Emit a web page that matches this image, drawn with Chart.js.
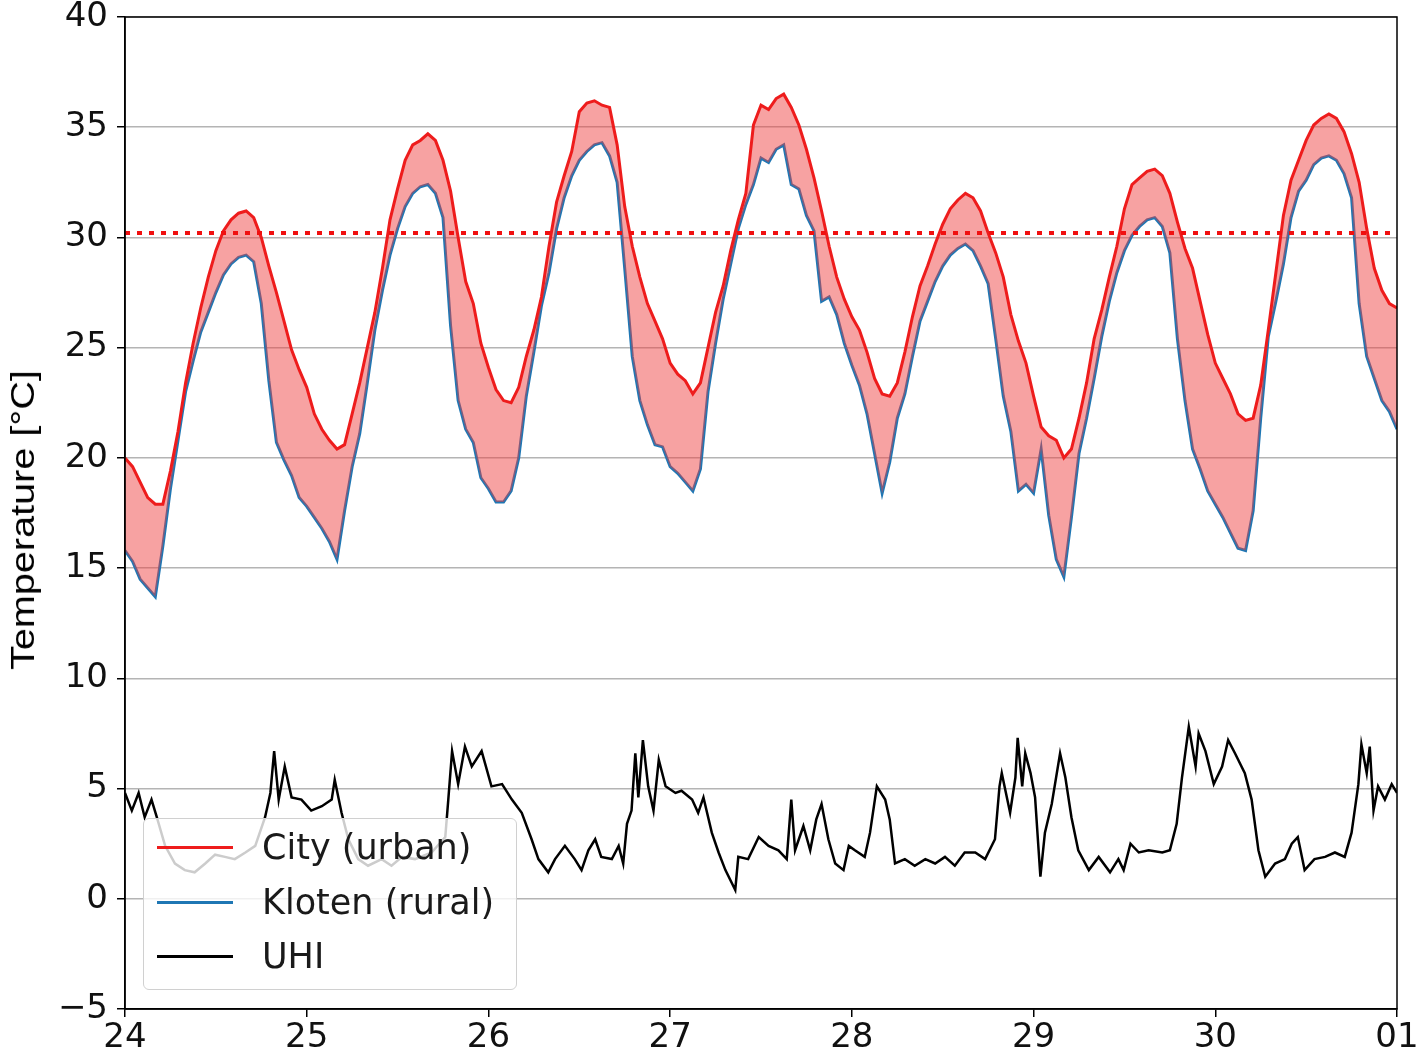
<!DOCTYPE html>
<html>
<head>
<meta charset="utf-8">
<script src="https://cdn.jsdelivr.net/npm/chart.js@4"></script>
<style>
  html, body { margin: 0; padding: 0; background: #fff; overflow: hidden; }
  #wrap { position: relative; width: 1418px; height: 1059px; }
  #legend {
    position: absolute; left: 143px; top: 818px; width: 372px; height: 170px;
    background: rgba(255, 255, 255, 0.8); border: 1.5px solid #d0d0d0; border-radius: 6px;
    font-family: "DejaVu Sans", sans-serif; font-size: 35px; color: #1a1a1a;
  }
  .row { position: absolute; left: 0; height: 40px; display: flex; align-items: center; }
  .row span.line { display: inline-block; width: 76px; height: 3px; margin-left: 13px; margin-right: 29px; }
  #ytitle {
    position: absolute; left: 23px; top: 520px; white-space: nowrap;
    font-family: "Liberation Sans", Arial, sans-serif; font-size: 33px; color: #000;
    transform: translate(-50%, -50%) rotate(-90deg) scaleX(1.2);
  }
</style>
</head>
<body>
<div id="wrap">
  <canvas id="chart" width="1418" height="1059"></canvas>
  <div id="ytitle">Temperature [°C]</div>
  <div id="legend">
    <div class="row" style="top: 8px"><span class="line" style="background:#ee1c1c"></span>City (urban)</div>
    <div class="row" style="top: 63px"><span class="line" style="background:#1f77b4"></span>Kloten (rural)</div>
    <div class="row" style="top: 117px"><span class="line" style="background:#000"></span>UHI</div>
  </div>
</div>
<script>
// hours from 24th 00:00, one value per hour (0..168)
const xTickLabels = [`24`, `25`, `26`, `27`, `28`, `29`, `30`, `01`];

const cityTemps = [
  20.0, 19.6, 18.9, 18.2, 17.9, 17.9, 19.4, 21.2, 23.4, 25.2, 26.8, 28.2,
  29.4, 30.3, 30.8, 31.1, 31.2, 30.9, 30.0, 28.7, 27.5, 26.2, 24.9, 24.0,
  23.2, 22.0, 21.3, 20.8, 20.4, 20.6, 22.0, 23.4, 25.0, 26.6, 28.6, 30.8,
  32.2, 33.5, 34.2, 34.4, 34.7, 34.4, 33.5, 32.1, 30.0, 28.0, 27.0, 25.2,
  24.1, 23.1, 22.6, 22.5, 23.2, 24.6, 25.8, 27.3, 29.6, 31.6, 32.8, 33.9,
  35.7, 36.1, 36.2, 36.0, 35.9, 34.2, 31.4, 29.6, 28.2, 27.0, 26.2, 25.4,
  24.3, 23.8, 23.5, 22.9, 23.4, 25.0, 26.6, 27.8, 29.4, 30.8, 32.0, 35.1,
  36.0, 35.8, 36.3, 36.5, 35.9, 35.1, 34.0, 32.7, 31.2, 29.6, 28.2, 27.2,
  26.4, 25.8, 24.8, 23.6, 22.9, 22.8, 23.4, 24.8, 26.4, 27.8, 28.7, 29.7,
  30.6, 31.3, 31.7, 32.0, 31.8, 31.2, 30.2, 29.3, 28.2, 26.5, 25.3, 24.3,
  22.8, 21.4, 21.0, 20.8, 20.0, 20.4, 21.8, 23.4, 25.4, 26.7, 28.2, 29.6,
  31.3, 32.4, 32.7, 33.0, 33.1, 32.8, 32.0, 30.7, 29.5, 28.6, 27.1, 25.6,
  24.3, 23.6, 22.9, 22.0, 21.7, 21.8, 23.3, 25.8, 28.4, 31.0, 32.6, 33.5,
  34.4, 35.1, 35.4, 35.6, 35.4, 34.8, 33.8, 32.5, 30.4, 28.6, 27.6, 27.0,
  26.8
];

const klotenTemps = [
  15.8, 15.3, 14.5, 14.1, 13.7, 16.0, 18.6, 20.8, 23.0, 24.4, 25.7, 26.6,
  27.5, 28.3, 28.8, 29.1, 29.2, 28.9, 27.0, 23.5, 20.7, 19.9, 19.2, 18.2,
  17.8, 17.3, 16.8, 16.2, 15.4, 17.6, 19.6, 21.1, 23.4, 25.8, 27.6, 29.2,
  30.4, 31.4, 32.0, 32.3, 32.4, 32.0, 30.9, 26.0, 22.6, 21.3, 20.7, 19.1,
  18.6, 18.0, 18.0, 18.5, 20.0, 22.8, 24.8, 26.9, 28.4, 30.4, 31.8, 32.8,
  33.5, 33.9, 34.2, 34.3, 33.7, 32.5, 28.6, 24.6, 22.6, 21.5, 20.6, 20.5,
  19.6, 19.3, 18.9, 18.5, 19.5, 23.0, 25.2, 27.2, 28.8, 30.4, 31.5, 32.4,
  33.6, 33.4, 34.0, 34.2, 32.4, 32.2, 31.0, 30.3, 27.1, 27.3, 26.5, 25.2,
  24.2, 23.3, 22.0, 20.2, 18.4, 19.8, 21.8, 22.9, 24.6, 26.2, 27.1, 28.0,
  28.7, 29.2, 29.5, 29.7, 29.4, 28.7, 27.9, 25.4, 22.8, 21.2, 18.5, 18.8,
  18.4, 20.4, 17.4, 15.4, 14.6, 17.3, 20.2, 21.8, 23.6, 25.5, 27.1, 28.4,
  29.4, 30.1, 30.5, 30.8, 30.9, 30.5, 29.3, 25.4, 22.6, 20.4, 19.5, 18.5,
  17.9, 17.3, 16.6, 15.9, 15.8, 17.6, 21.8, 25.5, 27.1, 28.8, 30.9, 32.1,
  32.6, 33.3, 33.6, 33.7, 33.5, 32.9, 31.8, 27.0, 24.6, 23.6, 22.6, 22.1,
  21.3
];

// UHI read at irregular times (hours from 24th 00:00)
const uhiHours = [
  0, 0.9, 1.8, 2.6, 3.5, 4.2, 5.3, 6.6, 7.9, 9.2, 10.6, 11.9, 13.2, 14.5, 15.9, 17.2,
  18.5, 19.2, 19.7, 20.3, 21.1, 22.0, 23.3, 24.6, 26.0, 27.3, 27.7, 28.6, 29.5, 30.8,
  32.1, 33.9, 35.2, 36.6, 38.3, 40.5, 42.3, 42.7, 43.2, 44.0, 44.9, 45.8, 47.1, 48.4,
  49.8, 51.1, 52.4, 53.7, 54.6, 55.9, 56.8, 58.1, 59.4, 60.3, 61.2, 62.1, 62.9, 64.3,
  65.2, 65.8, 66.3, 66.9, 67.4, 67.8, 68.4, 69.1, 69.8, 70.5, 71.4, 72.7, 73.5, 74.9,
  75.7, 76.4, 77.5, 78.4, 79.3, 80.6, 81.0, 82.3, 83.7, 85.0, 86.3, 87.4, 88.0, 88.5,
  89.6, 90.5, 91.3, 92.0, 92.9, 93.8, 94.9, 95.6, 96.4, 97.7, 98.4, 99.3, 100.4, 101.0,
  101.7, 103.0, 104.3, 105.7, 107.0, 108.3, 109.6, 110.9, 112.3, 113.6, 114.9, 115.5,
  115.8, 116.9, 117.6, 117.9, 118.5, 118.9, 119.6, 120.2, 120.9, 121.5, 122.4, 123.5,
  124.2, 125.0, 125.9, 127.3, 128.6, 130.1, 131.2, 131.9, 132.8, 133.9, 135.2, 137.0,
  138.0, 138.9, 139.6, 140.5, 141.4, 141.8, 142.7, 143.8, 144.9, 145.7, 146.6, 147.9,
  148.8, 149.7, 150.6, 151.9, 153.2, 154.1, 154.9, 155.8, 157.1, 158.5, 159.8, 161.1,
  162.0, 162.9, 163.3, 164.0, 164.4, 164.9, 165.5, 166.4, 167.3, 168
];
const uhiValues = [
  4.8, 4.0, 4.8, 3.7, 4.5, 3.7, 2.4, 1.6, 1.3, 1.2, 1.6, 2.0, 1.9, 1.8, 2.1, 2.4,
  3.7, 4.8, 6.7, 4.5, 6.0, 4.6, 4.5, 4.0, 4.2, 4.5, 5.4, 3.9, 2.7, 1.8,
  1.5, 1.8, 1.5, 1.9, 1.8, 2.1, 2.8, 4.5, 6.7, 5.2, 6.9, 6.0, 6.7, 5.1,
  5.2, 4.5, 3.9, 2.7, 1.8, 1.2, 1.8, 2.4, 1.8, 1.3, 2.2, 2.7, 1.9, 1.8,
  2.4, 1.6, 3.4, 4.0, 6.6, 4.6, 7.2, 5.1, 4.0, 6.3, 5.1, 4.8, 4.9, 4.5,
  3.9, 4.6, 3.0, 2.1, 1.3, 0.4, 1.9, 1.8, 2.8, 2.4, 2.2, 1.8, 4.5, 2.2,
  3.3, 2.2, 3.6, 4.3, 2.7, 1.6, 1.3, 2.4, 2.2, 1.9, 3.0, 5.1, 4.5, 3.6,
  1.6, 1.8, 1.5, 1.8, 1.6, 1.9, 1.5, 2.1, 2.1, 1.8, 2.7, 5.1,
  5.7, 3.9, 5.5, 7.3, 5.1, 6.6, 5.7, 4.6, 1.0, 3.0, 4.3, 6.6,
  5.5, 3.7, 2.2, 1.3, 1.9, 1.2, 1.8, 1.3, 2.5, 2.1, 2.2, 2.1,
  2.2, 3.4, 5.5, 7.8, 6.0, 7.5, 6.7, 5.2, 6.0, 7.2, 6.6, 5.7,
  4.5, 2.2, 1.0, 1.6, 1.8, 2.5, 2.8, 1.3, 1.8, 1.9, 2.1, 1.9,
  3.0, 5.2, 7.0, 5.7, 6.9, 4.0, 5.1, 4.5, 5.2, 4.8
];

const thresholdTemp = 30.2;

const hourly = (values) => values.map((v, i) => ({x: i, y: v}));

// matplotlib-like box round the plot area
const framePlugin = {
  id: `frame`,
  afterDatasetsDraw(chart) {
    const {ctx, chartArea} = chart;
    ctx.save();
    ctx.strokeStyle = `#000`;
    ctx.lineWidth = 1.5;
    ctx.strokeRect(chartArea.left, chartArea.top, chartArea.right - chartArea.left, chartArea.bottom - chartArea.top);
    ctx.restore();
  }
};

new Chart(document.getElementById(`chart`), {
  type: `line`,
  data: {
    datasets: [
      {
        label: `threshold`,
        data: [{x: 0, y: thresholdTemp}, {x: 168, y: thresholdTemp}],
        borderColor: `#f01010`,
        borderWidth: 4,
        borderDash: [5, 7],
        pointRadius: 0,
        fill: false
      },
      {
        label: `City (urban)`,
        data: hourly(cityTemps),
        borderColor: `#ee1c1c`,
        backgroundColor: `rgba(238, 60, 60, 0.48)`,
        borderWidth: 3,
        pointRadius: 0,
        tension: 0,
        fill: `+1`
      },
      {
        label: `Kloten (rural)`,
        data: hourly(klotenTemps),
        borderColor: `#1f77b4`,
        borderWidth: 3,
        pointRadius: 0,
        tension: 0,
        fill: false
      },
      {
        label: `UHI`,
        data: uhiHours.map((h, i) => ({x: h, y: uhiValues[i]})),
        borderColor: `#000`,
        borderWidth: 2.5,
        pointRadius: 0,
        tension: 0,
        fill: false
      }
    ]
  },
  options: {
    responsive: false,
    animation: false,
    devicePixelRatio: 1,
    layout: {padding: 0},
    plugins: {
      legend: {display: false},
      tooltip: {enabled: false}
    },
    scales: {
      x: {
        type: `linear`,
        min: 0,
        max: 168,
        grid: {drawOnChartArea: false, color: `#000`, tickLength: 8, lineWidth: 1.5},
        border: {color: `#000`, width: 1.5},
        ticks: {
          stepSize: 24,
          padding: 1,
          color: `#111`,
          font: {family: `DejaVu Sans`, size: 34},
          maxRotation: 0,
          callback: (value) => xTickLabels[value / 24]
        },
        afterFit: (scale) => {
          scale.height = 50;
          scale.paddingLeft = 0;
          scale.paddingRight = 21;
        }
      },
      y: {
        min: -5,
        max: 40,
        grid: {color: `#b4b4b4`, lineWidth: 1.5, tickColor: `#000`, tickLength: 8},
        border: {color: `#000`, width: 1.5},
        ticks: {
          stepSize: 5,
          padding: 9,
          color: `#111`,
          font: {family: `DejaVu Sans`, size: 34},
          callback: (value) => String(value).replace(`-`, `\u2212`)
        },
        afterFit: (scale) => {
          scale.width = 125;
          scale.paddingTop = 17;
          scale.paddingBottom = 0;
        }
      }
    }
  },
  plugins: [framePlugin]
});
</script>
</body>
</html>
